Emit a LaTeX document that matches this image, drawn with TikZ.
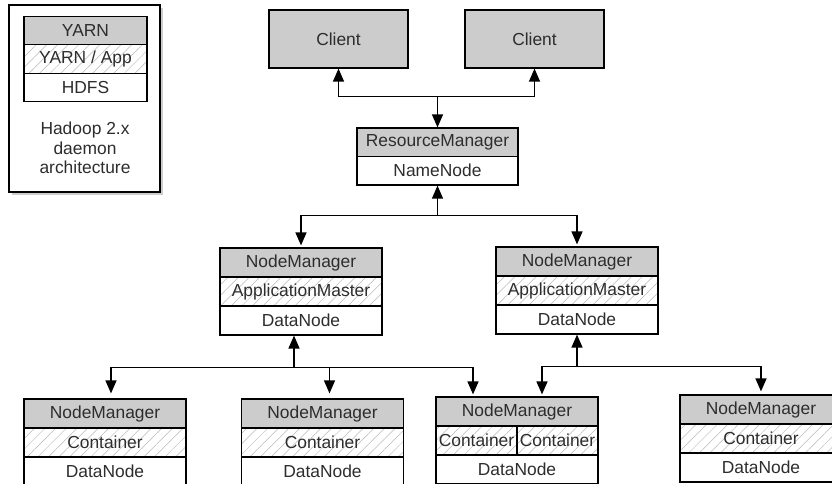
\documentclass[tikz,border=0pt]{standalone}
\usepackage{fontspec}
\setmainfont{Liberation Sans}
\usepackage{tikz}
\usetikzlibrary{arrows.meta, patterns.meta, shadows}
\usepackage{xcolor}
\definecolor{boxgray}{RGB}{204,204,204}
\definecolor{textgray}{RGB}{45,45,45}
\tikzstyle{layer} = [rectangle, draw=black, line width=1.2pt, minimum height=29pt, minimum width=162pt, inner sep=0pt, text=textgray, font=\fontsize{17.4}{19.5}\selectfont]
\tikzstyle{yarn} = [layer, fill=boxgray]
\tikzstyle{app} = [layer, pattern={Lines[angle=45,distance=7.5pt,line width=0.5pt]}, pattern color=black!28]
\tikzstyle{hdfs} = [layer, fill=white]
\tikzstyle{link} = [line width=1.3pt, >={Triangle[length=13pt,width=11pt]}]

\begin{document}
\begin{tikzpicture}[x=1pt,y=-1pt]

        \useasboundingbox (0,0) rectangle (832,484);
        \clip (0,0) rectangle (832,484);

        % legend
        \node (legend) [draw=black, line width=1.2pt, fill=white, drop shadow={shadow xshift=3pt, shadow yshift=-3pt, fill=black!40}, minimum width=151pt, minimum height=187pt] at (84.5,98.5) {};
        \node (leg-yarn) [yarn, minimum width=123pt, minimum height=28.5pt] at (85.5,30.5) {YARN};
        \node (leg-app) [app, minimum width=123pt, minimum height=28.5pt] at (85.5,59) {YARN / App};
        \node (leg-hdfs) [hdfs, minimum width=123pt, minimum height=28.5pt] at (85.5,87.5) {HDFS};
        \node (leg-text) [text=textgray, align=center, font=\fontsize{17.4}{19.5}\selectfont] at (85,148) {Hadoop 2.x\\daemon\\architecture};

        \node (cl1) [yarn, minimum width=139pt, minimum height=58pt] at (338.5,39) {Client};
        \node (cl2) [yarn, minimum width=139pt, minimum height=58pt] at (534.5,39) {Client};

        \node (rm-yarn) [yarn, minimum width=161pt, minimum height=28.5pt] at (437.5,142.25) {ResourceManager};
        \node (rm-hdfs) [hdfs, minimum width=161pt, minimum height=28.5pt] at (437.5,170.75) {NameNode};

        \node (nm1-yarn) [yarn] at (301,262.5) {NodeManager};
        \node (nm1-app) [app] at (301,291.5) {ApplicationMaster};
        \node (nm1-hdfs) [hdfs] at (301,320.5) {DataNode};

        \node (nm2-yarn) [yarn] at (577,261.5) {NodeManager};
        \node (nm2-app) [app] at (577,290.5) {ApplicationMaster};
        \node (nm2-hdfs) [hdfs] at (577,319.5) {DataNode};

        \node (b1-yarn) [yarn] at (105,413.5) {NodeManager};
        \node (b1-app) [app] at (105,442.5) {Container};
        \node (b1-hdfs) [hdfs] at (105,471.5) {DataNode};

        \node (b2-yarn) [yarn] at (322.5,413.5) {NodeManager};
        \node (b2-app) [app] at (322.5,442.5) {Container};
        \node (b2-hdfs) [hdfs] at (322.5,471.5) {DataNode};

        \node (b3-yarn) [yarn] at (517,411.5) {NodeManager};
        \node (b3-app1) [app, minimum width=81pt] at (476.5,440.5) {Container};
        \node (b3-app2) [app, minimum width=81pt] at (557.5,440.5) {Container};
        \node (b3-hdfs) [hdfs] at (517,469.5) {DataNode};

        \node (b4-yarn) [yarn] at (761,409.5) {NodeManager};
        \node (b4-app) [app] at (761,438.5) {Container};
        \node (b4-hdfs) [hdfs] at (761,467.5) {DataNode};

        \coordinate (hub1) at ([yshift=31pt]rm-yarn.north);
        \coordinate (hub2) at ([yshift=-30pt]rm-hdfs.south);
        \coordinate (hub3) at ([xshift=-7pt, yshift=-32pt]nm1-hdfs.south);
        \coordinate (hub4) at ([yshift=-32pt]nm2-hdfs.south);

        \draw[link, <->] (cl1.south) |- (hub1) -- (rm-yarn.north);
        \draw[link, ->] (hub1) -| (cl2.south);

        \draw[link, ->] (hub2) -- (rm-hdfs.south);
        \draw[link, ->, shorten >=2pt] (hub2) -| (nm1-yarn.north);
        \draw[link, ->, shorten >=2pt] (hub2) -| (nm2-yarn.north);

        \draw[link, ->] (hub3) -- (hub3 |- nm1-hdfs.south);
        \draw[link, ->, shorten >=5pt] (hub3) -| ([xshift=6pt]b1-yarn.north);
        \draw[link, ->, shorten >=5pt] (hub3) -| ([xshift=7pt]b2-yarn.north);
        \draw[link, ->, shorten >=2pt] (hub3) -| ([xshift=-44pt]b3-yarn.north);

        \draw[link, ->] (hub4) -- (nm2-hdfs.south);
        \draw[link, ->, shorten >=2pt] (hub4) -| ([xshift=25pt]b3-yarn.north);
        \draw[link, ->, shorten >=3pt] (hub4) -| (b4-yarn.north);

    \end{tikzpicture}
\end{document}
